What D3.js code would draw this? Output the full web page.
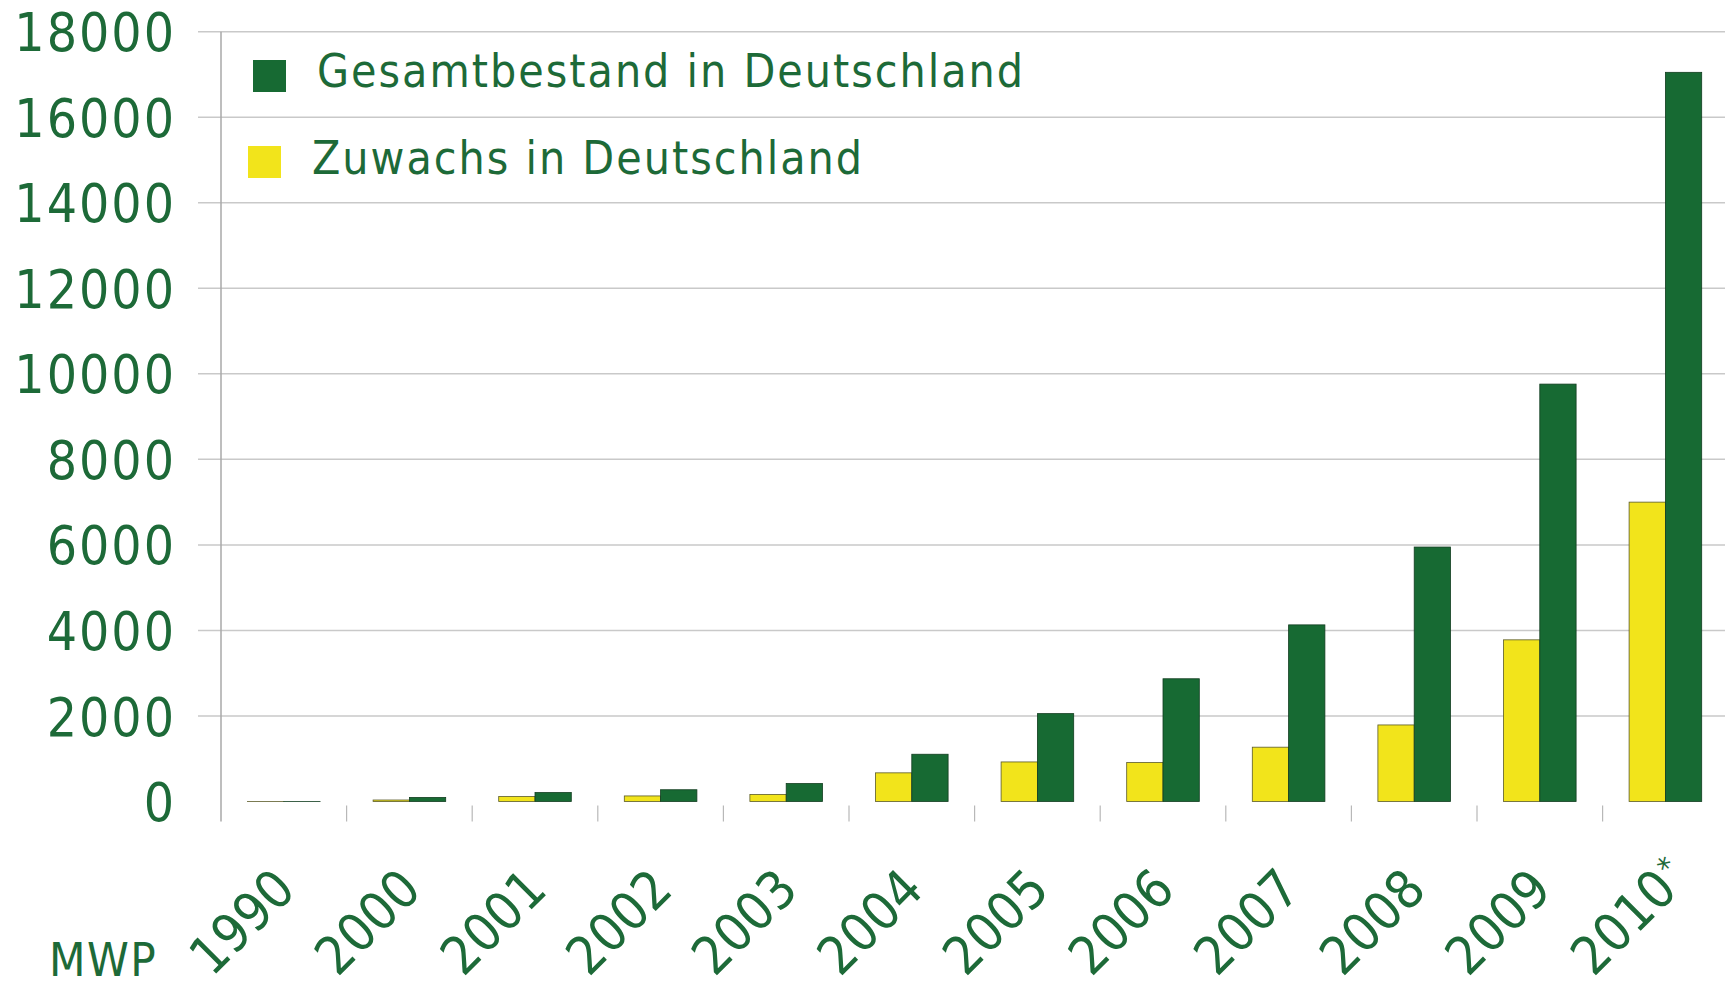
<!DOCTYPE html>
<html>
<head>
<meta charset="utf-8">
<script src="https://cdn.jsdelivr.net/npm/d3@7"></script>
<style>
  html, body { margin: 0; padding: 0; background: #ffffff; }
  svg { display: block; }
  text { font-family: "DejaVu Sans Condensed", "DejaVu Sans", Verdana, sans-serif; font-stretch: condensed; }
</style>
</head>
<body>
<svg id="chart" width="1725" height="987"></svg>
<script>
// Photovoltaik in Deutschland, installierte Leistung in MWp
const years = ["1990", "2000", "2001", "2002", "2003", "2004", "2005", "2006", "2007", "2008", "2009", "2010"];
const yearLabels = ["1990", "2000", "2001", "2002", "2003", "2004", "2005", "2006", "2007", "2008", "2009", "2010"];
const yearMarks = ["", "", "", "", "", "", "", "", "", "", "", "*"];
const zuwachs = [1, 35, 115, 130, 165, 670, 925, 910, 1270, 1790, 3780, 7000];
const gesamtbestand = [2, 95, 210, 275, 420, 1105, 2055, 2870, 4130, 5950, 9760, 17050];
const seriesNames = ["Zuwachs in Deutschland", "Gesamtbestand in Deutschland"];
const yTicks = [0, 2000, 4000, 6000, 8000, 10000, 12000, 14000, 16000, 18000];
const unitLabel = "MWP";

const W = 1725, H = 987;
const plotLeft = 221, plotTop = 31.7, plotBottom = 801.5;
const bandW = 125.6;

const textColor = "#1d6a38";
const green = "#176a33";
const yellow = "#f2e41b";

const svg = d3.select("#chart");

const y = d3.scaleLinear().domain([0, 18000]).range([plotBottom, plotTop]);
const x = d3.scaleBand().domain(years).range([plotLeft, plotLeft + bandW * years.length]).padding(0);
const xInner = d3.scaleBand().domain(["zuwachs", "gesamt"]).range([0, x.bandwidth()])
  .paddingInner(0).paddingOuter(0.73);

// horizontal gridlines (no line at zero)
svg.append("g").selectAll("line")
  .data(yTicks.filter(d => d > 0))
  .join("line")
  .attr("x1", plotLeft - 23).attr("x2", W)
  .attr("y1", d => y(d)).attr("y2", d => y(d))
  .attr("stroke", "#c9c9c9").attr("stroke-width", 1.5);

// vertical axis line
svg.append("line")
  .attr("x1", plotLeft).attr("x2", plotLeft)
  .attr("y1", plotTop).attr("y2", plotBottom + 20)
  .attr("stroke", "#a8a8a8").attr("stroke-width", 1.5);

// category separators below the baseline
svg.append("g").selectAll("line")
  .data(years.slice(1))
  .join("line")
  .attr("x1", d => x(d)).attr("x2", d => x(d))
  .attr("y1", plotBottom + 4).attr("y2", plotBottom + 20)
  .attr("stroke", "#b8b8b8").attr("stroke-width", 1.2);

// y axis labels
const yAxis = d3.axisLeft(y).tickValues(yTicks).tickSize(0).tickPadding(45).tickFormat(d3.format("d"));
const yG = svg.append("g").attr("transform", `translate(${plotLeft},0)`).call(yAxis);
yG.select(".domain").remove();
yG.selectAll("text")
  .attr("fill", textColor)
  .style("font-size", "53px")
  .style("letter-spacing", "2px")
  .attr("dy", "0.36em");

// bars
const groups = svg.append("g").selectAll("g")
  .data(years)
  .join("g")
  .attr("transform", d => `translate(${x(d)},0)`);

groups.append("rect")
  .attr("x", xInner("zuwachs"))
  .attr("width", xInner.bandwidth())
  .attr("y", (d, i) => y(zuwachs[i]))
  .attr("height", (d, i) => plotBottom - y(zuwachs[i]))
  .attr("fill", yellow)
  .attr("stroke", "#5a5a2a").attr("stroke-width", 0.8);

groups.append("rect")
  .attr("x", xInner("gesamt"))
  .attr("width", xInner.bandwidth())
  .attr("y", (d, i) => y(gesamtbestand[i]))
  .attr("height", (d, i) => plotBottom - y(gesamtbestand[i]))
  .attr("fill", green)
  .attr("stroke", "#123d20").attr("stroke-width", 0.8);

// rotated year labels
const xl = svg.append("g").selectAll("g")
  .data(years)
  .join("g")
  .attr("transform", d => `translate(${x(d) + x.bandwidth() / 2 + 14},892) rotate(-45)`);
xl.append("text")
  .attr("text-anchor", "end")
  .attr("fill", textColor)
  .style("font-size", "53px")
  .text((d, i) => yearLabels[i]);
// footnote mark raised above the end of a label
xl.filter((d, i) => yearMarks[i] !== "")
  .append("text")
  .attr("x", 9).attr("y", -16)
  .attr("text-anchor", "middle")
  .attr("fill", textColor)
  .style("font-size", "30px")
  .text((d) => yearMarks[years.indexOf(d)]);

// unit label
svg.append("text")
  .attr("x", 49).attr("y", 976)
  .attr("fill", textColor)
  .style("font-size", "47px")
  .style("letter-spacing", "1.5px")
  .text(unitLabel);

// legend
const legend = [
  { name: seriesNames[1], color: green, sx: 253, sy: 60, tx: 317, ty: 70 },
  { name: seriesNames[0], color: yellow, sx: 248, sy: 146, tx: 312, ty: 157 }
];
const lg = svg.append("g").selectAll("g").data(legend).join("g");
lg.append("rect")
  .attr("x", d => d.sx).attr("y", d => d.sy)
  .attr("width", 33).attr("height", 32)
  .attr("fill", d => d.color);
lg.append("text")
  .attr("x", d => d.tx).attr("y", d => d.ty)
  .attr("dy", "0.36em")
  .attr("fill", textColor)
  .style("font-size", "46px")
  .style("letter-spacing", "2px")
  .text(d => d.name);
</script>
</body>
</html>
